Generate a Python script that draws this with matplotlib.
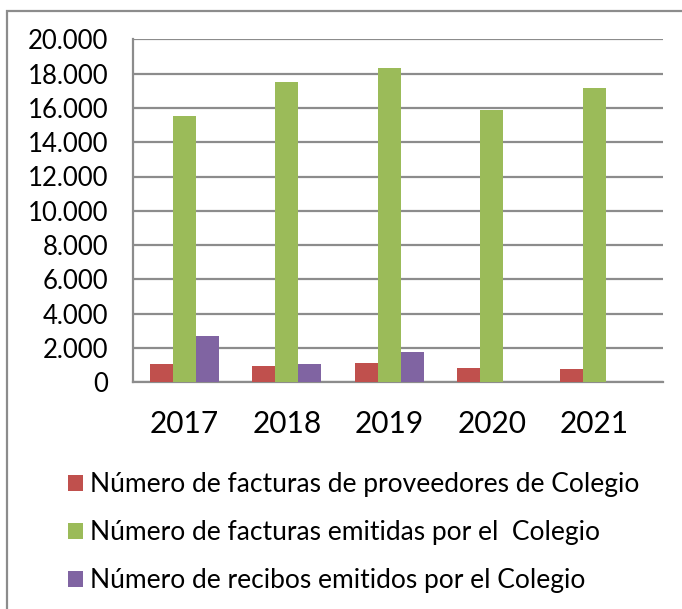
import matplotlib
matplotlib.use('Agg')
import matplotlib.pyplot as plt
from matplotlib.patches import Rectangle, Patch
from matplotlib.ticker import FuncFormatter
import numpy as np

plt.rcParams['font.family'] = ['Lato', 'DejaVu Sans']

years = ['2017', '2018', '2019', '2020', '2021']
proveedores = [1070, 940, 1130, 840, 760]
emitidas = [15500, 17530, 18350, 15900, 17170]
recibos = [2700, 1090, 1750, 0, 0]

series_labels = ['Número de facturas de proveedores de Colegio',
                 'Número de facturas emitidas por el  Colegio',
                 'Número de recibos emitidos por el Colegio']
colors = ['#C0504D', '#9BBB59', '#8064A2']

fig = plt.figure(figsize=(6.82, 6.09), dpi=100)
ax = fig.add_axes([133.3 / 682, 1 - 382.3 / 609, 529.4 / 682, 343 / 609])

x = np.arange(len(years))
w = 0.225
for i, vals in enumerate([proveedores, emitidas, recibos]):
    ax.bar(x + (i - 1) * w, vals, width=w, color=colors[i], zorder=3)

ax.set_ylim(0, 20000)
ax.set_xlim(-0.5, 4.67)
ax.set_yticks(range(0, 20001, 2000))
ax.yaxis.set_major_formatter(FuncFormatter(lambda v, p: f'{int(v):,}'.replace(',', '.')))
ax.set_xticks(x)
ax.set_xticklabels(years)
ax.grid(axis='y', color='#8c8c8c', linewidth=1.6, zorder=0)
ax.tick_params(axis='y', length=0, pad=18, labelsize=18.5)
ax.tick_params(axis='x', length=0, pad=20, labelsize=21.5)
for s in ['top', 'right']:
    ax.spines[s].set_visible(False)
for s in ['left', 'bottom']:
    ax.spines[s].set_color('#8c8c8c')
    ax.spines[s].set_linewidth(1.6)

handles = [Patch(facecolor=c, edgecolor='none') for c in colors]
fig.legend(handles, series_labels, loc='upper left', bbox_to_anchor=(68 / 682, 1 - 472 / 609),
           frameon=False, fontsize=19, handlelength=0.55, handleheight=0.55,
           handletextpad=0.27, labelspacing=0.88, borderpad=0, borderaxespad=0)

fig.patches.append(Rectangle((7 / 682, -0.2), 2, 1.2 - 11 / 609, transform=fig.transFigure,
                             fill=False, edgecolor='#8c8c8c', linewidth=1.6))

fig.savefig('out.png', dpi=100)
